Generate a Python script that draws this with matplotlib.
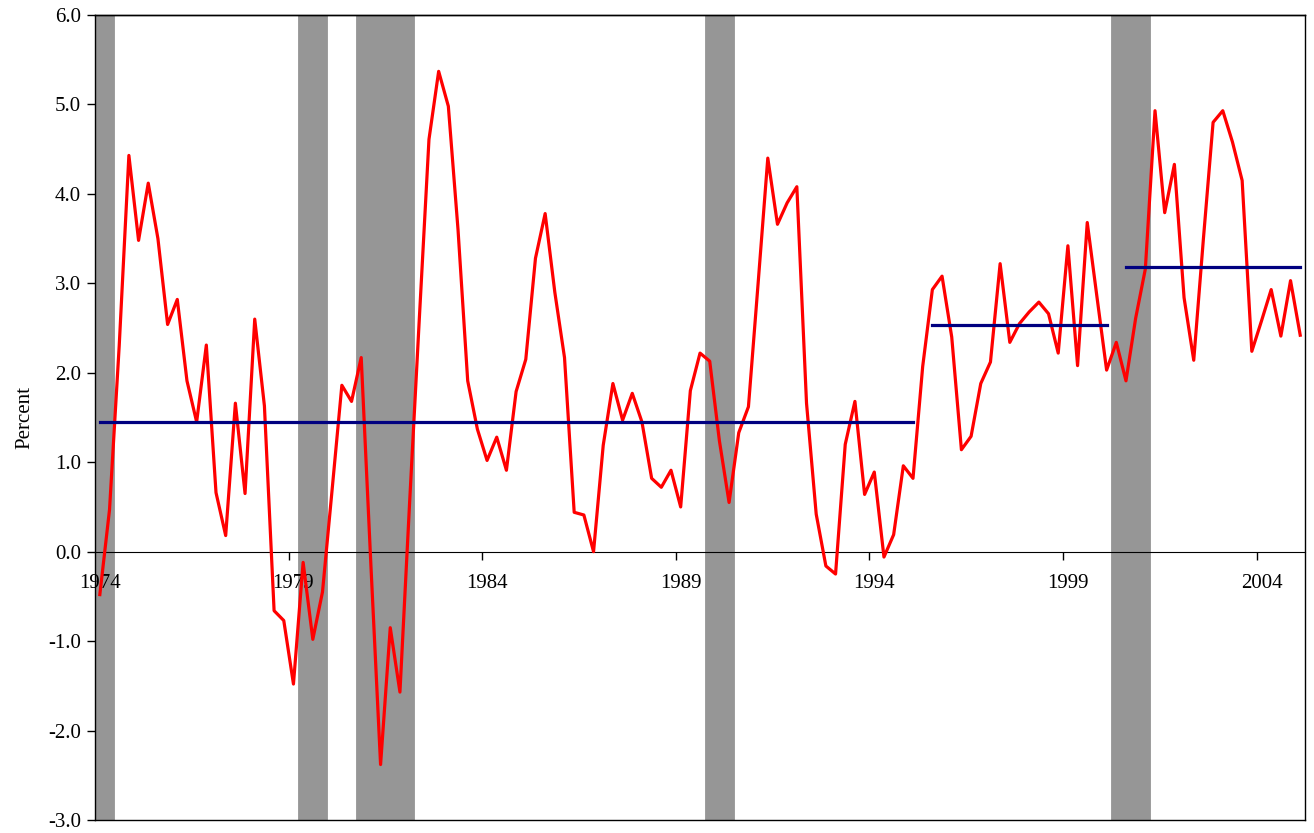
import numpy as np
import matplotlib
matplotlib.use('Agg')
import matplotlib.pyplot as plt

plt.rcParams['font.family'] = ['Liberation Serif', 'DejaVu Serif']

# quarterly values, 1974Q1 .. 2005Q1
growth = [-0.48, 0.47, 2.30, 4.43, 3.48, 4.12, 3.50, 2.54, 2.82, 1.91,
          1.45, 2.31, 0.66, 0.18, 1.66, 0.65, 2.60, 1.63, -0.66, -0.77,
          -1.48, -0.12, -0.98, -0.45, 0.70, 1.86, 1.68, 2.17, -0.15, -2.38,
          -0.85, -1.57, 0.55, 2.60, 4.61, 5.37, 4.98, 3.60, 1.91, 1.37,
          1.02, 1.28, 0.91, 1.79, 2.15, 3.28, 3.78, 2.90, 2.17, 0.44,
          0.41, 0.00, 1.19, 1.88, 1.47, 1.77, 1.45, 0.82, 0.72, 0.91,
          0.50, 1.80, 2.22, 2.13, 1.24, 0.55, 1.33, 1.62, 3.00, 4.40,
          3.66, 3.90, 4.08, 1.66, 0.42, -0.16, -0.25, 1.20, 1.68, 0.64,
          0.89, -0.06, 0.19, 0.96, 0.82, 2.07, 2.93, 3.08, 2.40, 1.14,
          1.29, 1.88, 2.12, 3.22, 2.34, 2.55, 2.68, 2.79, 2.66, 2.22,
          3.42, 2.08, 3.68, 2.85, 2.03, 2.34, 1.91, 2.61, 3.16, 4.93,
          3.79, 4.33, 2.84, 2.14, 3.50, 4.80, 4.93, 4.58, 4.15, 2.24,
          2.58, 2.93, 2.41, 3.03, 2.42]

year_labels = ['1974', '1979', '1984', '1989', '1994', '1999', '2004']

# period averages (first quarter, last quarter, value)
avg_start = [0, 86, 106]
avg_end = [84, 104, 124]
avg_value = [1.45, 2.53, 3.18]

# recession quarters (index from 1974Q1)
recession_q = [0, 1, 21, 22, 23, 27, 28, 29, 30, 31, 32, 63, 64, 65,
               105, 106, 107, 108]

n = len(growth)
q = np.arange(n)

fig = plt.figure(figsize=(13.14, 8.33), dpi=100)
ax = fig.add_axes([0.0723, 0.0156, 0.9209, 0.9664])

ax.bar(recession_q, 9.0, bottom=-3.0, width=1.0, color='#969696',
       edgecolor='#969696', linewidth=0.6, zorder=1)

ax.plot(q, growth, color='red', lw=2.3, zorder=3)

for s, e, v in zip(avg_start, avg_end, avg_value):
    ax.plot([s, e], [v, v], color='#000080', lw=2.3, zorder=4)

ax.set_xlim(-0.5, n - 0.5)
ax.set_ylim(-3, 6)

# y axis
ax.set_yticks(np.arange(-3, 7, 1))
ax.set_yticklabels(['%.1f' % v for v in np.arange(-3, 7, 1)], fontsize=15)
ax.tick_params(axis='y', direction='out', length=6, width=1, pad=4)
ax.set_ylabel('Percent', fontsize=15, labelpad=10)

# x axis crosses at zero, tick marks between categories
ax.spines['bottom'].set_position(('data', 0))
ax.spines['bottom'].set_zorder(2)
label_pos = np.arange(0, n, 20)
ax.set_xticks(label_pos[1:] - 0.5)
ax.set_xticklabels([])
ax.set_xticks(label_pos, minor=True)
ax.set_xticklabels(year_labels, minor=True, fontsize=15)
ax.tick_params(axis='x', which='major', direction='out', length=6, width=1)
ax.tick_params(axis='x', which='minor', length=0, pad=16)

# plot area border
ax.plot([0, 1], [1, 1], transform=ax.transAxes, color='black', lw=1, clip_on=False)
ax.plot([0, 1], [0, 0], transform=ax.transAxes, color='black', lw=1, clip_on=False)
for side in ['left', 'right', 'top']:
    ax.spines[side].set_linewidth(1)

fig.savefig('out.png', dpi=100)
